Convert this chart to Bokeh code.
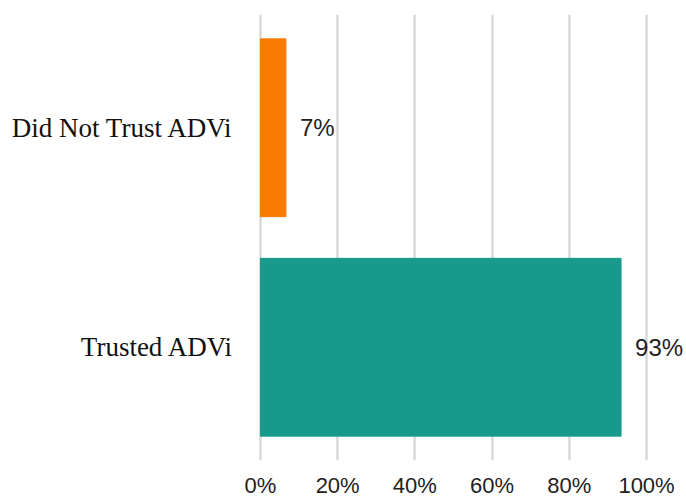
from bokeh.plotting import figure
from bokeh.models import ColumnDataSource, FactorRange, Range1d, FixedTicker, NumeralTickFormatter, LabelSet
from bokeh.core.properties import value
from bokeh.embed import file_html
from bokeh.resources import INLINE

# data (bottom to top)
categories = ["Trusted ADVi", "Did Not Trust ADVi"]
shares = [0.934, 0.066]
share_labels = ["93%", "7%"]
bar_colors = ["#179A8B", "#F97B02"]
x_ticks = [0, 0.2, 0.4, 0.6, 0.8, 1.0]

src = ColumnDataSource(dict(cat=categories, share=shares, label=share_labels, color=bar_colors))

p = figure(
    width=686, height=500,
    y_range=FactorRange(*categories, range_padding=0.016),
    x_range=Range1d(-0.005, 1.1035),
    output_backend="svg", toolbar_location=None,
    min_border_left=258, min_border_right=0,
    min_border_top=14, min_border_bottom=38,
)

p.hbar(y="cat", left=0, right="share", height=0.81, color="color", source=src)

labels = LabelSet(x="share", y="cat", text="label", source=src,
                  x_offset=14, text_baseline="middle", text_align="left",
                  text_font=value("Liberation Sans"), text_font_size=value("24px"),
                  text_color="#222222")
p.add_layout(labels)

p.outline_line_color = None
p.ygrid.visible = False
p.xgrid.grid_line_color = "#D9D9D9"
p.xgrid.grid_line_width = 2.5

p.xaxis.ticker = FixedTicker(ticks=x_ticks)
p.xaxis.formatter = NumeralTickFormatter(format="0%")
for ax in (p.xaxis, p.yaxis):
    ax.axis_line_color = None
    ax.major_tick_line_color = None
    ax.minor_tick_line_color = None
    ax.major_tick_out = 0
    ax.major_tick_in = 0

p.xaxis.major_label_text_font = "Liberation Sans"
p.xaxis.major_label_text_font_size = "22px"
p.xaxis.major_label_text_color = "#222222"
p.xaxis.major_label_standoff = 12

p.yaxis.major_label_text_font = "Liberation Serif"
p.yaxis.major_label_text_font_size = "27px"
p.yaxis.major_label_text_color = "#111111"
p.yaxis.major_label_standoff = 25

open("out.html", "w").write(file_html(p, INLINE))
